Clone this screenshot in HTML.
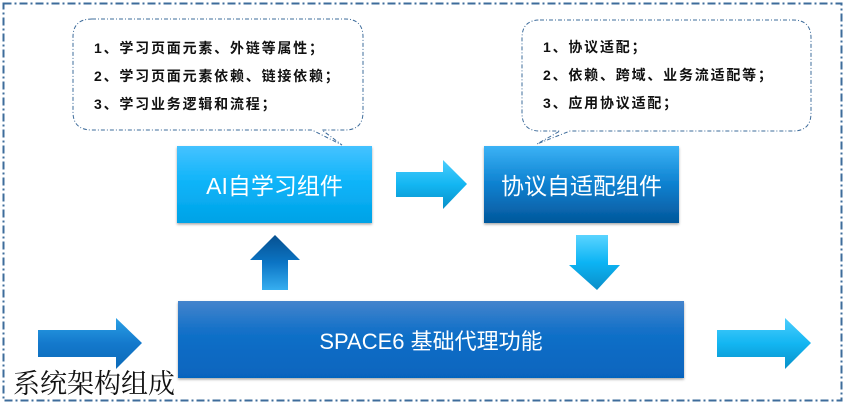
<!DOCTYPE html>
<html><head><meta charset="utf-8"><style>
html,body{margin:0;padding:0;background:#fff;}
svg{display:block;}
</style></head><body>
<svg width="847" height="406" viewBox="0 0 847 406" xmlns="http://www.w3.org/2000/svg">
<defs>
<linearGradient id="light" x1="0" y1="0" x2="0" y2="1"><stop offset="0" stop-color="#45c2ff"/><stop offset="0.5" stop-color="#0bb3f8"/><stop offset="1" stop-color="#02a2e6"/></linearGradient>
<linearGradient id="dark" x1="0" y1="0" x2="0" y2="1"><stop offset="0" stop-color="#3bb2f5"/><stop offset="0.5" stop-color="#0d80cf"/><stop offset="1" stop-color="#04579b"/></linearGradient>
<linearGradient id="space" x1="0" y1="0" x2="0" y2="1"><stop offset="0" stop-color="#4484cc"/><stop offset="0.4" stop-color="#1270c8"/><stop offset="1" stop-color="#0664be"/></linearGradient>
<linearGradient id="arrL" x1="0" y1="0" x2="0" y2="1"><stop offset="0" stop-color="#2aa0e6"/><stop offset="0.5" stop-color="#1479cc"/><stop offset="1" stop-color="#0c6ab8"/></linearGradient>
<linearGradient id="arrR" x1="0" y1="0" x2="0" y2="1"><stop offset="0" stop-color="#4ccdfd"/><stop offset="0.5" stop-color="#13b6f2"/><stop offset="1" stop-color="#0890c8"/></linearGradient>
<linearGradient id="arrUp" x1="0" y1="0" x2="0" y2="1"><stop offset="0" stop-color="#07508f"/><stop offset="0.5" stop-color="#0b74c4"/><stop offset="1" stop-color="#36aef0"/></linearGradient>
<linearGradient id="arrDn" x1="0" y1="0" x2="0" y2="1"><stop offset="0" stop-color="#5ad4ff"/><stop offset="0.5" stop-color="#0cb4f4"/><stop offset="1" stop-color="#0a8ec8"/></linearGradient>
<filter id="sh" x="-5%" y="-5%" width="110%" height="115%"><feDropShadow dx="0" dy="1.5" stdDeviation="1.2" flood-color="#000" flood-opacity="0.35"/></filter>
</defs>
<rect x="3.5" y="3.5" width="838" height="397" fill="none" stroke="#3e6c9b" stroke-width="2" stroke-dasharray="8,3,2,3"/>

<path d="M92,19 H345 Q363,19 363,37 V112 Q363,130 345,130 H322 L342,145 L312,130 H92 Q73,130 73,112 V37 Q73,19 92,19 Z" fill="#fff" stroke="#3e6c9b" stroke-width="1" stroke-dasharray="4,2,1,2"/>
<g font-family="'Liberation Sans','Noto Sans CJK SC',sans-serif" font-size="14" fill="#111" font-weight="bold" letter-spacing="1.8">
<text x="94" y="53">1、学习页面元素、外链等属性；</text>
<text x="94" y="81">2、学习页面元素依赖、链接依赖；</text>
<text x="94" y="109">3、学习业务逻辑和流程；</text>
</g>

<path d="M540,20 H793 Q811,20 811,38 V113 Q811,131 793,131 H570 L537,144 L560,131 H540 Q522,131 522,113 V38 Q522,20 540,20 Z" fill="#fff" stroke="#3e6c9b" stroke-width="1" stroke-dasharray="4,2,1,2"/>
<g font-family="'Liberation Sans','Noto Sans CJK SC',sans-serif" font-size="14" fill="#111" font-weight="bold" letter-spacing="1.8">
<text x="543" y="52">1、协议适配；</text>
<text x="543" y="80">2、依赖、跨域、业务流适配等；</text>
<text x="543" y="108">3、应用协议适配；</text>
</g>

<rect x="177" y="146" width="195" height="77" fill="url(#light)" filter="url(#sh)"/>
<text x="274.5" y="194" text-anchor="middle" font-family="'Liberation Sans','Noto Sans CJK SC',sans-serif" font-size="23" fill="#fff">AI自学习组件</text>
<rect x="484" y="146" width="195" height="77" fill="url(#dark)" filter="url(#sh)"/>
<text x="581.5" y="194" text-anchor="middle" font-family="'Liberation Sans','Noto Sans CJK SC',sans-serif" font-size="23" fill="#fff">协议自适配组件</text>
<rect x="178" y="301" width="506" height="77" fill="url(#space)" filter="url(#sh)"/>
<text x="431" y="349" text-anchor="middle" font-family="'Liberation Sans','Noto Sans CJK SC',sans-serif" font-size="22" fill="#fff">SPACE6 基础代理功能</text>

<path d="M396,172 H443 V160 L467,184 L443,209 V197 H396 Z" fill="url(#arrR)"/>
<path d="M262,290 V260 H250 L275,235 L300,260 H288 V290 Z" fill="url(#arrUp)"/>
<path d="M576,235 H608 V265 H620 L597,290 L569,265 H576 Z" fill="url(#arrDn)"/>
<path d="M38,330 H116 V318 L142,343 L116,369 V357 H38 Z" fill="url(#arrL)"/>
<path d="M717,330 H785 V318 L811,343 L785,369 V357 H717 Z" fill="url(#arrR)"/>

<text x="13" y="393" font-family="'Liberation Serif','Noto Serif CJK SC',serif" font-size="27" fill="#111">系统架构组成</text>
</svg>
</body></html>
